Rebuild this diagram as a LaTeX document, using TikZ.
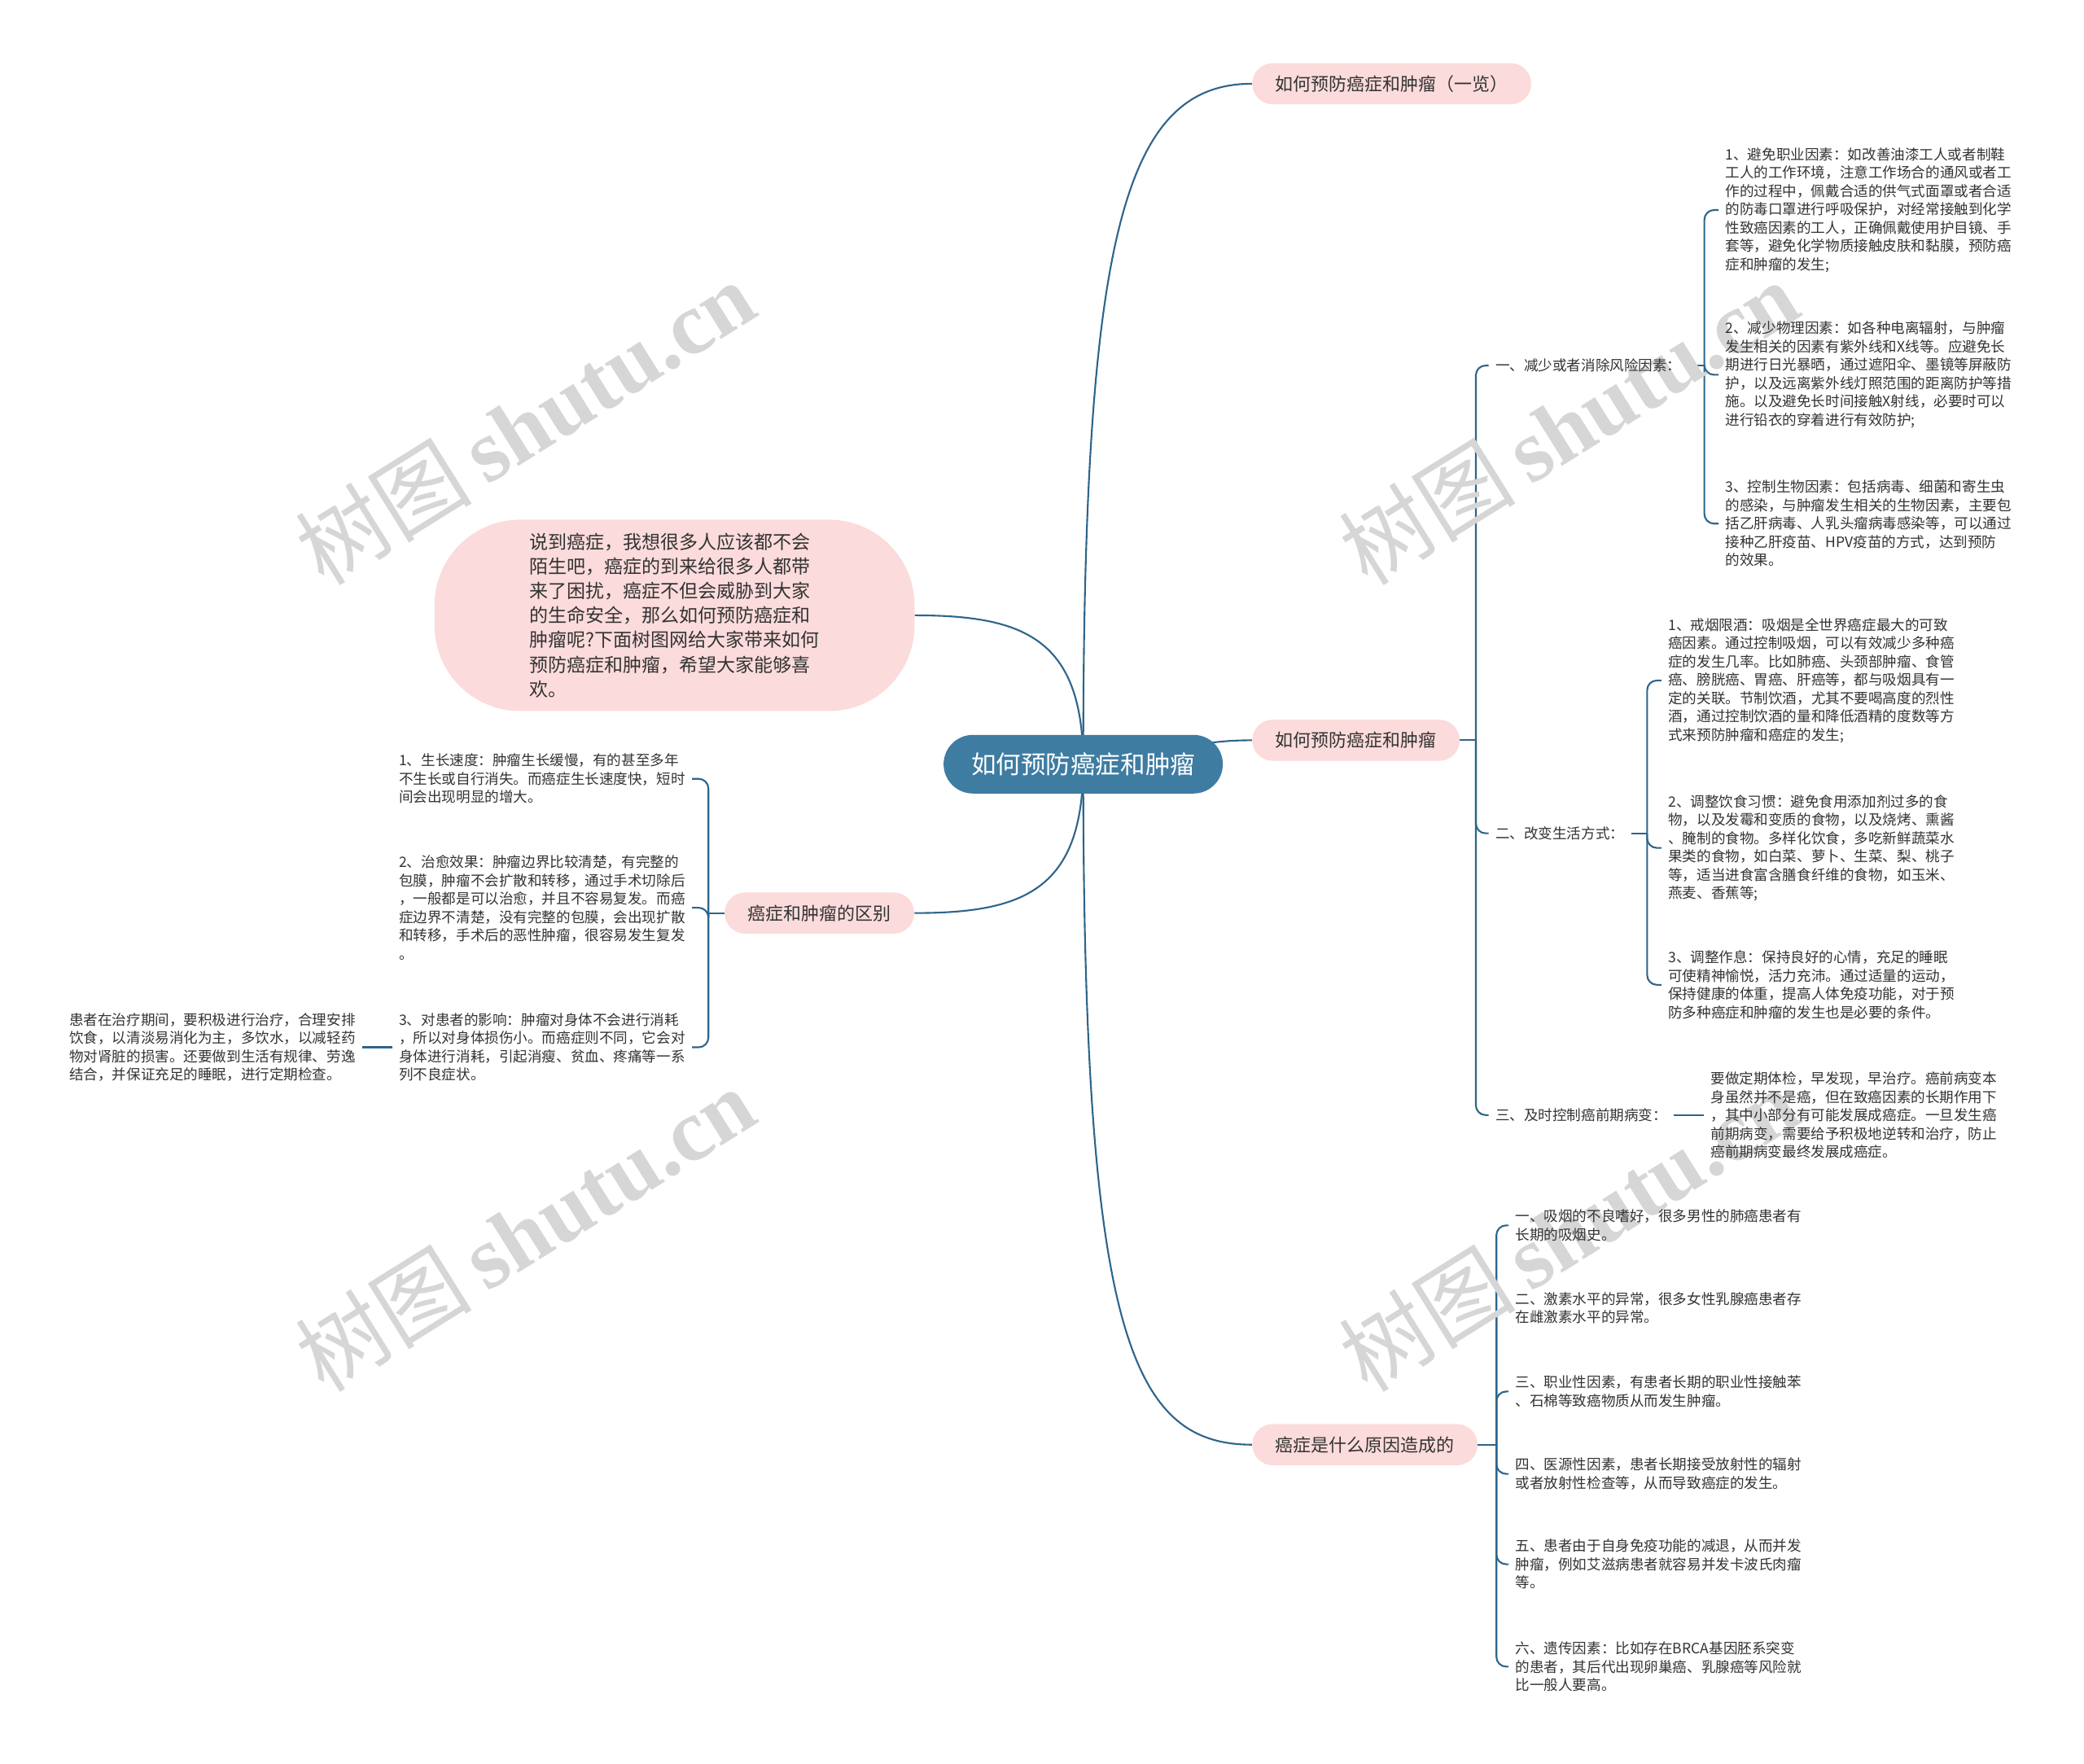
\documentclass[tikz,border=0pt]{standalone}
\usepackage{fontspec}
\newfontfamily\cjk{Noto Sans CJK SC}
\newfontfamily\wmserif{Liberation Serif}
\usepackage{tikz}
\usetikzlibrary{positioning, backgrounds}
\definecolor{linkblue}{RGB}{46,101,138}
\definecolor{rootblue}{RGB}{62,124,162}
\definecolor{pillpink}{RGB}{251,219,219}
\definecolor{inkgray}{RGB}{51,51,51}
\definecolor{markgray}{RGB}{214,214,214}

\begin{document}
\begin{tikzpicture}[x=0.032653cm, y=-0.032653cm,
    link/.style={draw=linkblue, line width=1.2pt},
    hook/.style={link, rounded corners=0.24cm},
    root/.style={rounded corners=0.72cm, fill=rootblue, text=white, minimum width=6.86cm,
      minimum height=1.44cm, font=\cjk\fontsize{17.4}{20}\selectfont},
    pill/.style={rounded corners=0.5cm, fill=pillpink, text=inkgray, minimum height=1.01cm,
      inner xsep=0.57cm, font=\cjk\fontsize{12.5}{15}\selectfont},
    intro/.style={rounded corners=2.1cm, fill=pillpink, text=inkgray, minimum width=11.79cm,
      minimum height=4.7cm, align=left, font=\cjk\fontsize{13.1}{17.2}\selectfont},
    leaf/.style={align=left, text=inkgray, inner xsep=0.163cm, inner ysep=0pt,
      font=\cjk\fontsize{10}{12.8}\selectfont},
    wmark/.style={text=markgray, rotate=32, font=\fontsize{62}{62}\selectfont}]
  \begin{scope}[on background layer]
    \fill[white] (0,0) rectangle (1568,1327);
  \end{scope}
  \useasboundingbox (0,0) rectangle (1568,1327);
  % watermarks
  \node[wmark] (wm1) at (395,318)  {\cjk 树图\,\wmserif\bfseries shutu.cn};
  \node[wmark] (wm2) at (1180,318) {\cjk 树图\,\wmserif\bfseries shutu.cn};
  \node[wmark] (wm3) at (395,925)  {\cjk 树图\,\wmserif\bfseries shutu.cn};
  \node[wmark] (wm4) at (1180,925) {\cjk 树图\,\wmserif\bfseries shutu.cn};
  % root and main branches
  \node[root] (root) at (815,575) {如何预防癌症和肿瘤};
  \node[pill, anchor=west] (overview) at (942,63)   {如何预防癌症和肿瘤（一览）};
  \node[pill, anchor=west] (prevent)  at (942,557)  {如何预防癌症和肿瘤};
  \node[pill, anchor=west] (causes)   at (942,1087) {癌症是什么原因造成的};
  \node[pill, anchor=east] (differ)   at (688,687)  {癌症和肿瘤的区别};
  \node[intro] (intro) at (507.5,463) {说到癌症，我想很多人应该都不会\\陌生吧，癌症的到来给很多人都带\\来了困扰，癌症不但会威胁到大家\\的生命安全，那么如何预防癌症和\\肿瘤呢?下面树图网给大家带来如何\\预防癌症和肿瘤，希望大家能够喜\\欢。};
  % prevention
  \node[leaf, anchor=west] (risk)  at (1120,275) {一、减少或者消除风险因素：};
  \node[leaf, anchor=west] (life)  at (1120,627) {二、改变生活方式：};
  \node[leaf, anchor=west] (early) at (1120,839) {三、及时控制癌前期病变：};
  \node[leaf, anchor=west] (risk1) at (1293,158) {1、避免职业因素：如改善油漆工人或者制鞋\\工人的工作环境，注意工作场合的通风或者工\\作的过程中，佩戴合适的供气式面罩或者合适\\的防毒口罩进行呼吸保护，对经常接触到化学\\性致癌因素的工人，正确佩戴使用护目镜、手\\套等，避免化学物质接触皮肤和黏膜，预防癌\\症和肿瘤的发生;};
  \node[leaf, anchor=west] (risk2) at (1293,282) {2、减少物理因素：如各种电离辐射，与肿瘤\\发生相关的因素有紫外线和X线等。应避免长\\期进行日光暴晒，通过遮阳伞、墨镜等屏蔽防\\护，以及远离紫外线灯照范围的距离防护等措\\施。以及避免长时间接触X射线，必要时可以\\进行铅衣的穿着进行有效防护;};
  \node[leaf, anchor=west] (risk3) at (1293,394) {3、控制生物因素：包括病毒、细菌和寄生虫\\的感染，与肿瘤发生相关的生物因素，主要包\\括乙肝病毒、人乳头瘤病毒感染等，可以通过\\接种乙肝疫苗、HPV疫苗的方式，达到预防\\的效果。};
  \node[leaf, anchor=west] (life1) at (1250,512) {1、戒烟限酒：吸烟是全世界癌症最大的可致\\癌因素。通过控制吸烟，可以有效减少多种癌\\症的发生几率。比如肺癌、头颈部肿瘤、食管\\癌、膀胱癌、胃癌、肝癌等，都与吸烟具有一\\定的关联。节制饮酒，尤其不要喝高度的烈性\\酒，通过控制饮酒的量和降低酒精的度数等方\\式来预防肿瘤和癌症的发生;};
  \node[leaf, anchor=west] (life2) at (1250,638) {2、调整饮食习惯：避免食用添加剂过多的食\\物，以及发霉和变质的食物，以及烧烤、熏酱\\、腌制的食物。多样化饮食，多吃新鲜蔬菜水\\果类的食物，如白菜、萝卜、生菜、梨、桃子\\等，适当进食富含膳食纤维的食物，如玉米、\\燕麦、香蕉等;};
  \node[leaf, anchor=west] (life3) at (1250,741) {3、调整作息：保持良好的心情，充足的睡眠\\可使精神愉悦，活力充沛。通过适量的运动，\\保持健康的体重，提高人体免疫功能，对于预\\防多种癌症和肿瘤的发生也是必要的条件。};
  \node[leaf, anchor=west] (check) at (1282,839) {要做定期体检，早发现，早治疗。癌前病变本\\身虽然并不是癌，但在致癌因素的长期作用下\\，其中小部分有可能发展成癌症。一旦发生癌\\前期病变，需要给予积极地逆转和治疗，防止\\癌前期病变最终发展成癌症。};
  % causes
  \node[leaf, anchor=west] (cause1) at (1135,922)  {一、吸烟的不良嗜好，很多男性的肺癌患者有\\长期的吸烟史。};
  \node[leaf, anchor=west] (cause2) at (1135,984)  {二、激素水平的异常，很多女性乳腺癌患者存\\在雌激素水平的异常。};
  \node[leaf, anchor=west] (cause3) at (1135,1047) {三、职业性因素，有患者长期的职业性接触苯\\、石棉等致癌物质从而发生肿瘤。};
  \node[leaf, anchor=west] (cause4) at (1135,1109) {四、医源性因素，患者长期接受放射性的辐射\\或者放射性检查等，从而导致癌症的发生。};
  \node[leaf, anchor=west] (cause5) at (1135,1177) {五、患者由于自身免疫功能的减退，从而并发\\肿瘤，例如艾滋病患者就容易并发卡波氏肉瘤\\等。};
  \node[leaf, anchor=west] (cause6) at (1135,1254) {六、遗传因素：比如存在BRCA基因胚系突变\\的患者，其后代出现卵巢癌、乳腺癌等风险就\\比一般人要高。};
  % differences
  \node[leaf, anchor=west] (diff1) at (295,586) {1、生长速度：肿瘤生长缓慢，有的甚至多年\\不生长或自行消失。而癌症生长速度快，短时\\间会出现明显的增大。};
  \node[leaf, anchor=west] (diff2) at (295,683) {2、治愈效果：肿瘤边界比较清楚，有完整的\\包膜，肿瘤不会扩散和转移，通过手术切除后\\，一般都是可以治愈，并且不容易复发。而癌\\症边界不清楚，没有完整的包膜，会出现扩散\\和转移，手术后的恶性肿瘤，很容易发生复发\\。};
  \node[leaf, anchor=west] (diff3) at (295,788) {3、对患者的影响：肿瘤对身体不会进行消耗\\，所以对身体损伤小。而癌症则不同，它会对\\身体进行消耗，引起消瘦、贫血、疼痛等一系\\列不良症状。};
  \node[leaf, anchor=west] (care) at (47,788) {患者在治疗期间，要积极进行治疗，合理安排\\饮食，以清淡易消化为主，多饮水，以减轻药\\物对肾脏的损害。还要做到生活有规律、劳逸\\结合，并保证充足的睡眠，进行定期检查。};
  % connectors
  \begin{scope}[on background layer]
    \draw[link] (root.center) .. controls (815,180) and (845,63) .. (overview.west);
    \draw[link] (root.center) .. controls (880,575) and (880,557) .. (prevent.west);
    \draw[link] (root.center) .. controls (815,1000) and (850,1087) .. (causes.west);
    \draw[link] (root.center) .. controls (815,480) and (770,463) .. (intro.east);
    \draw[link] (root.center) .. controls (815,670) and (770,687) .. (differ.east);
    % brackets: stub to a junction, then hooks to the children
    \draw[link] (prevent.east) -- ++(12,0) coordinate (prevent-j);
    \draw[link] (risk.east) -- ++(12,0) coordinate (risk-j);
    \draw[link] (life.east) -- ++(12,0) coordinate (life-j);
    \draw[link] (causes.east) -- ++(14,0) coordinate (causes-j);
    \draw[link] (differ.west) -- ++(-12,0) coordinate (differ-j);
    \foreach \k in {risk, life, early} {
      \draw[hook] (prevent-j) |- (\k.west);
    }
    \foreach \n in {1,2,3} {
      \draw[hook] (risk-j) |- (risk\n.west);
      \draw[hook] (life-j) |- (life\n.west);
      \draw[hook] (differ-j) |- (diff\n.east);
    }
    \foreach \n in {1,...,6} {
      \draw[hook] (causes-j) |- (cause\n.west);
    }
    \draw[link] (early.east) -- (check.west);
    \draw[link] (diff3.west) -- (care.east);
  \end{scope}
\end{tikzpicture}
\end{document}
